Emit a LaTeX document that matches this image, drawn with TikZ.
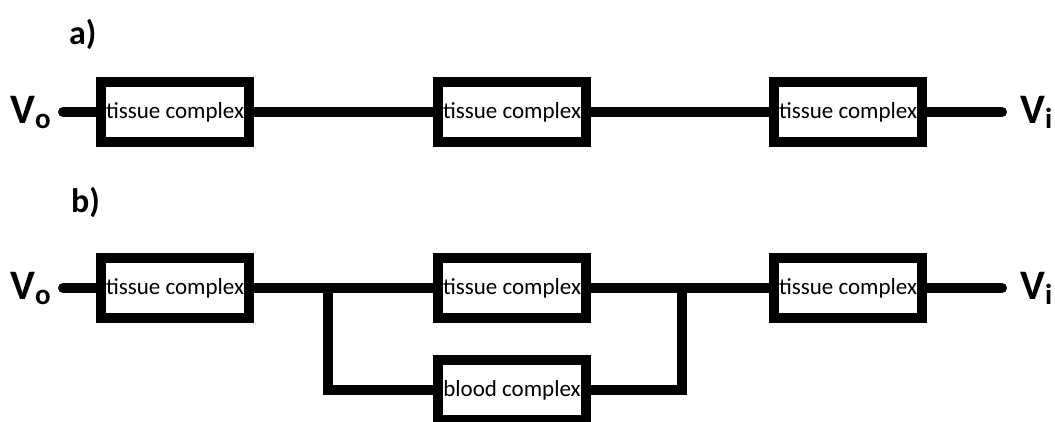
\documentclass[tikz,border=0pt]{standalone}
\usepackage{fontspec}
\setmainfont{Carlito}
\begin{document}
\begin{tikzpicture}[x=1pt,y=-1pt,
  box/.style={draw, line width=10pt, minimum width=148pt, minimum height=60pt, inner sep=0pt, font=\fontsize{23}{23}\selectfont},
  wire/.style={line width=10pt},
  lbl/.style={inner sep=0pt, anchor=base west, font=\fontsize{34}{34}\selectfont\bfseries},
  volt/.style={inner sep=0pt, anchor=base west, font=\fontsize{42}{42}\selectfont\bfseries}]
\clip (0,0) rectangle (1055,421);
\useasboundingbox (0,0) rectangle (1055,421);
% labels
\node[lbl] (la) at (69,44) {a)};
\node[lbl] (lb) at (71,212) {b)};
% row a
\node[box] (a1) at (175,112) {tissue complex};
\node[box] (a2) at (512,112) {tissue complex};
\node[box] (a3) at (848,112) {tissue complex};
\coordinate (ain) at (63,112);
\coordinate (aout) at (1002,112);
\node[volt] (vao) at (10,123) {V\raisebox{-5pt}{\fontsize{29}{29}\selectfont o}};
\node[volt] (vai) at (1020,123) {V\raisebox{-5pt}{\fontsize{29}{29}\selectfont i}};
\draw[wire, line cap=round] (ain) -- (a1.west);
\draw[wire] (a1.east) -- (a2.west);
\draw[wire] (a2.east) -- (a3.west);
\draw[wire, line cap=round] (a3.east) -- (aout);
% row b
\node[box] (b1) at (175,288) {tissue complex};
\node[box] (b2) at (512,288) {tissue complex};
\node[box] (b3) at (848,288) {tissue complex};
\node[box] (bb) at (512,390) {blood complex};
\coordinate (bin) at (63,288);
\coordinate (bout) at (1002,288);
\coordinate (jl) at (328,288);
\coordinate (jr) at (682,288);
\node[volt] (vbo) at (10,299) {V\raisebox{-5pt}{\fontsize{29}{29}\selectfont o}};
\node[volt] (vbi) at (1020,299) {V\raisebox{-5pt}{\fontsize{29}{29}\selectfont i}};
\draw[wire, line cap=round] (bin) -- (b1.west);
\draw[wire] (b1.east) -- (b2.west);
\draw[wire] (b2.east) -- (b3.west);
\draw[wire, line cap=round] (b3.east) -- (bout);
\draw[wire] (jl) |- (bb.west);
\draw[wire] (bb.east) -| (jr);
\end{tikzpicture}
\end{document}
